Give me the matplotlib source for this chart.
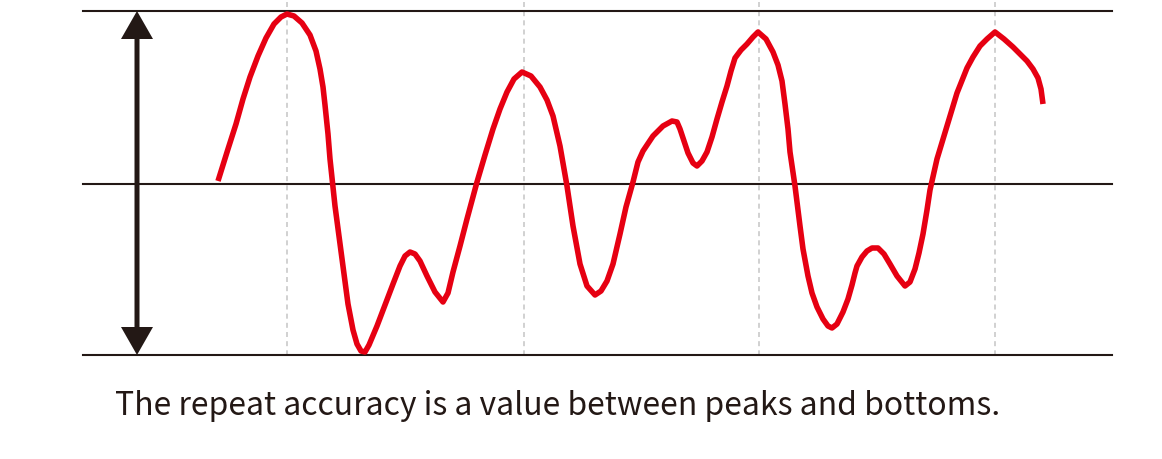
import matplotlib.pyplot as plt
from matplotlib.patches import FancyArrow

plt.rcParams['font.family'] = ['Noto Sans CJK JP', 'DejaVu Sans']

# curve (pixel coords, y down)
curve_x = [218, 228, 236, 243, 250, 258, 266, 274, 281, 287, 294, 302, 310, 316, 320,
           323, 325, 328, 330, 335, 342, 348, 353, 357, 361, 365, 369, 377, 385, 393,
           400, 405, 410, 415, 420, 427, 435, 443, 448, 453, 460, 467, 477, 485, 493,
           500, 507, 514, 522, 531, 540, 547, 553, 560, 567, 573, 580, 587, 595, 601,
           607, 613, 620, 626, 633, 638, 643, 653, 663, 672, 677, 680, 684, 688, 693,
           697, 702, 707, 712, 717, 722, 727, 731, 735, 741, 747, 753, 758, 766, 773,
           778, 782, 785, 788, 790, 795, 800, 803, 808, 812, 817, 823, 828, 832, 837,
           843, 848, 852, 855, 857, 862, 867, 872, 878, 884, 890, 897, 905, 910, 915,
           919, 923, 927, 930, 937, 947, 957, 967, 973, 980, 987, 995, 1004, 1013, 1020,
           1027, 1033, 1038, 1041, 1043]
curve_y = [182, 150, 125, 100, 78, 57, 39, 25, 18, 15, 17, 24, 36, 52, 70,
           88, 106, 135, 160, 207, 260, 305, 331, 345, 352, 353, 346, 327, 306, 285,
           267, 257, 253, 255, 262, 277, 293, 303, 294, 273, 247, 220, 183, 156, 130,
           110, 93, 80, 73, 77, 88, 101, 117, 147, 187, 227, 265, 287, 296, 292,
           282, 265, 235, 208, 183, 163, 152, 137, 127, 122, 123, 130, 142, 154, 164,
           167, 162, 153, 138, 120, 103, 87, 72, 59, 51, 45, 38, 33, 40, 53,
           66, 82, 105, 130, 153, 187, 227, 250, 277, 294, 308, 320, 327, 329, 325,
           313, 300, 286, 274, 267, 258, 252, 249, 249, 255, 265, 277, 287, 283, 270,
           254, 235, 211, 191, 160, 127, 94, 69, 58, 47, 40, 33, 40, 48, 55,
           62, 70, 79, 90, 105]

levels = [12, 185, 356]
grid_x = [287, 524, 759, 995]
caption = "The repeat accuracy is a value between peaks and bottoms."

ink = '#231815'
red = '#e60012'

fig = plt.figure(figsize=(11.62, 4.6), dpi=100)
ax = fig.add_axes([0, 0, 1, 1])
ax.set_xlim(0, 1162)
ax.set_ylim(460, 0)
ax.axis('off')

for gx in grid_x:
    ax.plot([gx, gx], [3, levels[-1]], color='#c9c9c9', lw=1.2, ls=(0, (3, 2.5)), zorder=1)

for lv in levels:
    ax.plot([83, 1112], [lv, lv], color=ink, lw=1.5, zorder=2)

ax.plot(curve_x, curve_y, color=red, lw=4, solid_joinstyle='round',
        solid_capstyle='butt', zorder=3)

# double arrow showing peak-to-bottom range
mid = levels[1]
for tip in (levels[0], levels[-1]):
    ax.add_patch(FancyArrow(137, mid, 0, tip - mid, width=5, head_width=32,
                            head_length=28, length_includes_head=True,
                            color=ink, lw=0, zorder=4))

ax.text(115, 415, caption, fontsize=23, color=ink, ha='left', va='baseline')

fig.savefig('out.png', dpi=100)
